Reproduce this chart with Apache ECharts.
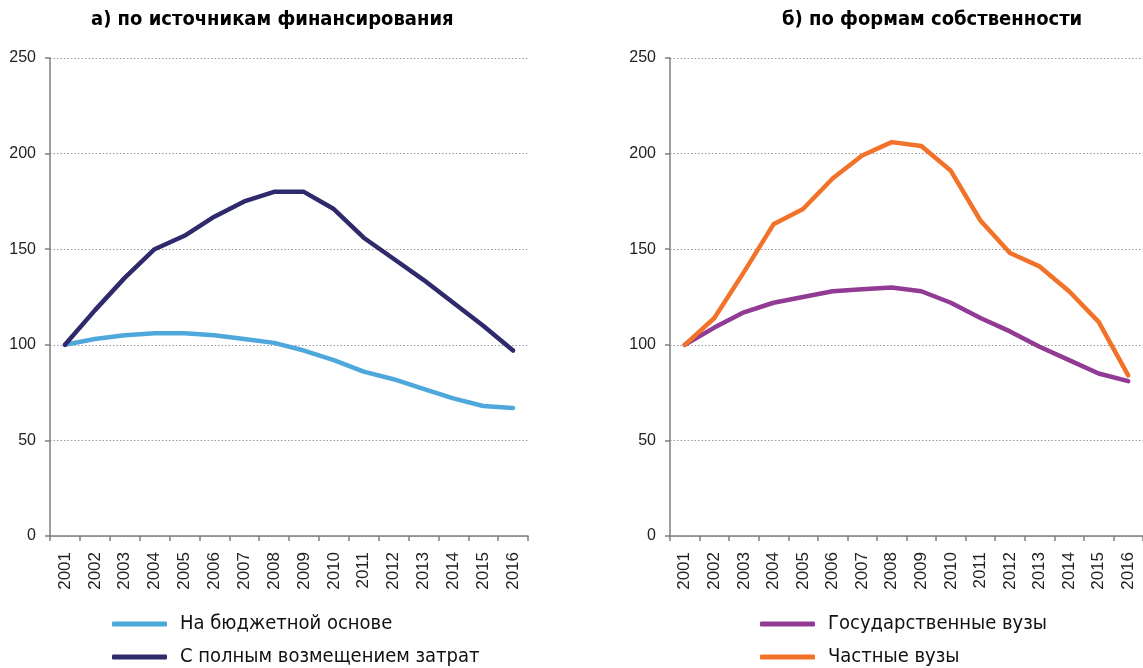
<!DOCTYPE html>
<html>
<head>
<meta charset="utf-8">
<script src="https://cdn.jsdelivr.net/npm/echarts@6/dist/echarts.min.js"></script>
<style>
  html, body { margin: 0; padding: 0; background: #fff; }
  #chart { width: 1143px; height: 668px; }
</style>
</head>
<body>
<div id="chart"></div>
<script>
// годы
const years = ['2001', '2002', '2003', '2004', '2005', '2006', '2007', '2008',
               '2009', '2010', '2011', '2012', '2013', '2014', '2015', '2016'];

// а) по источникам финансирования
const budget = [100, 103, 105, 106, 106, 105, 103, 101, 97, 92, 86, 82, 77, 72, 68, 67];
const paid = [100, 118, 135, 150, 157, 167, 175, 180, 180, 171, 156, 145, 134, 122, 110, 97];

// б) по формам собственности
const stateUni = [100, 109, 117, 122, 125, 128, 129, 130, 128, 122, 114, 107, 99, 92, 85, 81];
const privateUni = [100, 114, 138, 163, 171, 187, 199, 206, 204, 191, 165, 148, 141, 128, 112, 84];

const narrow = "'Liberation Sans Narrow', 'DejaVu Sans Condensed', 'Roboto', sans-serif";
const plain = "'Liberation Sans', Arial, sans-serif";

let myChart = echarts.init(document.getElementById('chart'));

//общие настройки осей
const xAxisOf = (gridIndex) => ({
    type: 'category',
    gridIndex,
    data: years,
    boundaryGap: true,
    axisLine: {lineStyle: {color: '#7f7f7f', width: 1.5}},
    axisTick: {show: true, length: 5, lineStyle: {color: '#7f7f7f', width: 1.5}},
    axisLabel: {rotate: 90, margin: 16, fontSize: 17, color: '#222', fontFamily: plain}
});
const yAxisOf = (gridIndex) => ({
    type: 'value',
    gridIndex,
    min: 0,
    max: 250,
    interval: 50,
    axisLine: {show: true, lineStyle: {color: '#7f7f7f', width: 1.5}},
    axisTick: {show: true, length: 5, lineStyle: {color: '#7f7f7f', width: 1.5}},
    axisLabel: {margin: 14, fontSize: 16, color: '#222', fontFamily: plain},
    splitLine: {show: true, lineStyle: {color: '#999', type: [1.5, 2], width: 1}}
});
const lineOf = (name, data, color, idx) => ({
    name,
    type: 'line',
    xAxisIndex: idx,
    yAxisIndex: idx,
    data,
    symbol: 'none',
    lineStyle: {color, width: 4.5, cap: 'round', join: 'round'},
    itemStyle: {color},
    z: 3
});
const legendOf = (left, names, colors) => ({
    orient: 'vertical',
    left,
    top: 614,
    height: 100,
    padding: 0,
    itemWidth: 55,
    itemHeight: 5,
    itemGap: 13,
    icon: 'roundRect',
    data: names.map((n, i) => ({name: n, itemStyle: {color: colors[i]}})),
    textStyle: {fontSize: 20, color: '#111', fontFamily: narrow, padding: [0, 0, 0, 8]}
});

const option = {
    animation: false,
    title: [
        {text: 'а) по источникам финансирования', left: 91, top: 10, padding: 0,
         textStyle: {fontSize: 20, fontWeight: 'bold', color: '#000', fontFamily: narrow}},
        {text: 'б) по формам собственности', left: 782, top: 10, padding: 0,
         textStyle: {fontSize: 20, fontWeight: 'bold', color: '#000', fontFamily: narrow}}
    ],
    legend: [
        legendOf(112, ['На бюджетной основе', 'С полным возмещением затрат'], ['#4fa8dc', '#2e2a6c']),
        legendOf(760, ['Государственные вузы', 'Частные вузы'], ['#913b94', '#f37229'])
    ],
    grid: [
        {left: 50, top: 58, width: 478, height: 478},
        {left: 670, top: 58, right: -5, height: 478}
    ],
    xAxis: [xAxisOf(0), xAxisOf(1)],
    yAxis: [yAxisOf(0), yAxisOf(1)],
    series: [
        lineOf('На бюджетной основе', budget, '#4fa8dc', 0),
        lineOf('С полным возмещением затрат', paid, '#2e2a6c', 0),
        lineOf('Государственные вузы', stateUni, '#913b94', 1),
        lineOf('Частные вузы', privateUni, '#f37229', 1)
    ]
};
myChart.setOption(option);
</script>
</body>
</html>
